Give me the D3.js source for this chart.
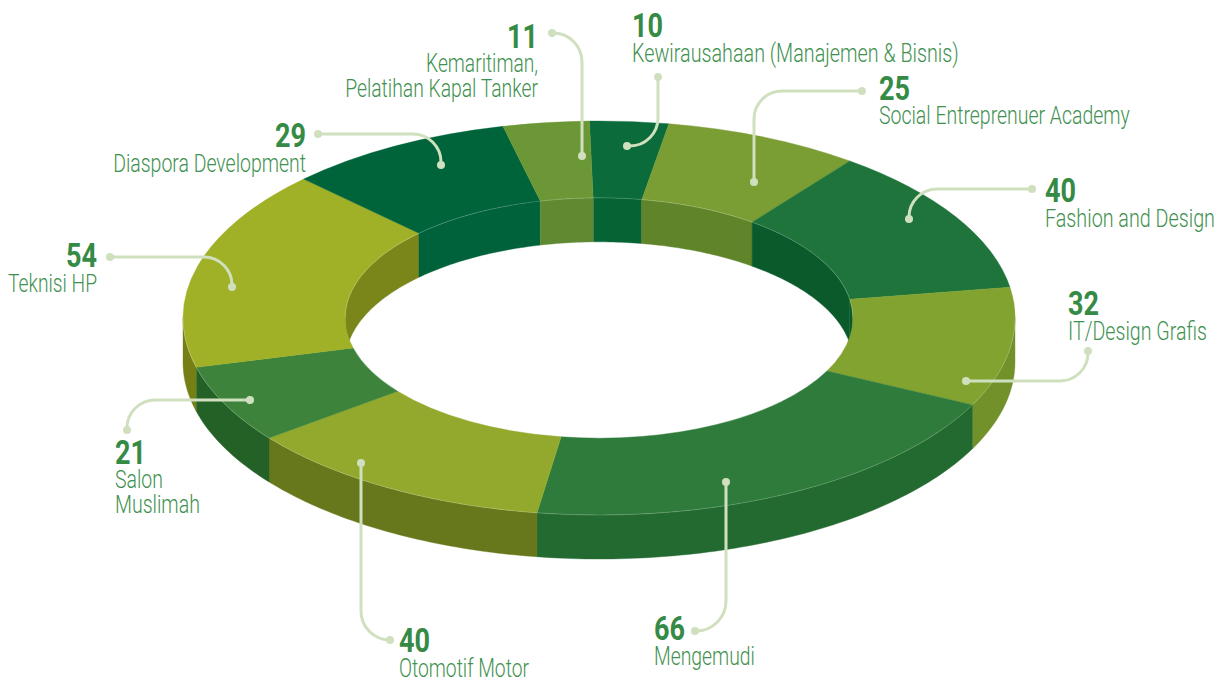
<!DOCTYPE html>
<html>
<head>
<meta charset="utf-8">
<title>Program</title>
<script src="https://cdn.jsdelivr.net/npm/d3@7"></script>
<style>
  body { margin: 0; background: #fff; }
  svg { display: block; }
  .angka { font-family: Roboto, "Liberation Sans", sans-serif; font-weight: 700; font-size: 32.5px; fill: #358a45; }
  .nama { font-family: Roboto, "Liberation Sans", sans-serif; font-weight: 300; font-size: 25.5px; fill: #3f9150; }
</style>
</head>
<body>
<div id="chart"></div>
<script>
// data, clockwise from the top of the ring
const names = ["Kewirausahaan (Manajemen & Bisnis)", "Social Entreprenuer Academy", "Fashion and Design",
  "IT/Design Grafis", "Mengemudi", "Otomotif Motor", "Salon\nMuslimah", "Teknisi HP", "Diaspora Development",
  "Kemaritiman,\nPelatihan Kapal Tanker"];
const values = [10, 25, 40, 32, 66, 40, 21, 54, 29, 11];

const topColors = ["#0b6b3a", "#7a9d34", "#1f743b", "#83a330", "#2e7b3b", "#93a92d", "#3d833b", "#a1b127", "#00643a", "#6b9737"];
const innerWallColors = ["#056334", "#5f842a", "#0a5a2c", "#0a5a2c", "#236a30", "#66781b", "#246127", "#7a861a", "#00623a", "#5f8a32"];
const outerWallColors = ["#056334", "#5f842a", "#0a5a2c", "#72912a", "#236a30", "#66781b", "#246127", "#757f16", "#00623a", "#5f8a32"];

// label placement: x, baseline of the number, baselines of the text lines, anchor, width of each line
const labelLayout = [
  { x: 632, numY: 37, lineY: [62], anchor: "start", w: [327] },
  { x: 879, numY: 100, lineY: [124], anchor: "start", w: [251] },
  { x: 1045, numY: 202, lineY: [227], anchor: "start", w: [170] },
  { x: 1068, numY: 315, lineY: [340], anchor: "start", w: [139] },
  { x: 654, numY: 640, lineY: [665], anchor: "start", w: [101] },
  { x: 399, numY: 652, lineY: [677], anchor: "start", w: [130] },
  { x: 115, numY: 464, lineY: [488, 513], anchor: "start", w: [48, 85] },
  { x: 97, numY: 267, lineY: [292], anchor: "end", w: [89] },
  { x: 306, numY: 147, lineY: [172], anchor: "end", w: [193] },
  { x: 538, numY: 48, lineY: [72, 97], anchor: "end", w: [112, 193] }
];
const numberWidth = 31;

// leader lines: start dot, corner, end dot, corner radius
const leaders = [
  [[658, 77], [658, 146], [627, 146], 28],
  [[862, 91], [754, 91], [754, 182], 28],
  [[1032, 189], [909, 189], [909, 219], 28],
  [[966, 381], [1088, 381], [1088, 351], 28],
  [[726, 482], [726, 631], [695, 631], 30],
  [[361, 463], [361, 640], [390, 640], 29],
  [[250, 400], [127, 400], [127, 430], 28],
  [[110, 257], [232, 257], [232, 287], 28],
  [[318, 134], [441, 134], [441, 165], 28],
  [[552, 33], [582, 33], [582, 156], 29]
];

const width = 1226, height = 682;
const cx = 599, cy = 318, rx = 416, ry = 197, depth = 44, holeRatio = 0.61;
const startDeg = -1.3;

const svg = d3.select("#chart").append("svg")
  .attr("width", width)
  .attr("height", height);

// the ring is a flat unit circle squashed into an ellipse
const xScale = d3.scaleLinear().domain([-1, 1]).range([cx - rx, cx + rx]);
const yScale = d3.scaleLinear().domain([-1, 1]).range([cy - ry, cy + ry]);

const pie = d3.pie().sort(null)
  .startAngle(startDeg * Math.PI / 180)
  .endAngle((startDeg + 360) * Math.PI / 180);
const slices = pie(values);

const arc = d3.arc().innerRadius(holeRatio).outerRadius(1);
const line = d3.line();

function ringPoints(a0, a1, r, dy) {
  const n = Math.max(2, Math.ceil((a1 - a0) * 60));
  return d3.range(n + 1).map(i => {
    const a = a0 + (a1 - a0) * i / n;
    return [xScale(r * Math.sin(a)), yScale(-r * Math.cos(a)) + dy];
  });
}

function wallPath(a0, a1, r) {
  const pts = ringPoints(a0, a1, r, 0).concat(ringPoints(a0, a1, r, depth).reverse());
  return line(pts) + "Z";
}

//cuts a slice to the part of the ring where the wall can be seen
function visibleParts(d, ranges) {
  const parts = [];
  ranges.forEach(rg => {
    const a0 = Math.max(d.startAngle, rg[0]);
    const a1 = Math.min(d.endAngle, rg[1]);
    if (a1 > a0) parts.push([a0, a1]);
  });
  return parts;
}

const PI = Math.PI;

// outer wall, lower half
const outerWalls = svg.append("g");
slices.forEach((d, i) => {
  visibleParts(d, [[PI / 2, PI * 1.5]]).forEach(p => {
    outerWalls.append("path")
      .attr("d", wallPath(p[0], p[1], 1))
      .attr("fill", outerWallColors[i])
      .attr("stroke", outerWallColors[i])
      .attr("stroke-width", 0.4);
  });
});

// inner wall, upper half of the hole
const innerWalls = svg.append("g");
slices.forEach((d, i) => {
  visibleParts(d, [[-PI / 2, PI / 2], [PI * 1.5, PI * 2.5]]).forEach(p => {
    innerWalls.append("path")
      .attr("d", wallPath(p[0], p[1], holeRatio))
      .attr("fill", innerWallColors[i])
      .attr("stroke", innerWallColors[i])
      .attr("stroke-width", 0.4);
  });
});

// top face
svg.append("g")
  .attr("transform", `translate(${cx},${cy}) scale(${rx},${ry})`)
  .selectAll("path")
  .data(slices)
  .join("path")
  .attr("d", arc)
  .attr("fill", (d, i) => topColors[i])
  .attr("stroke", (d, i) => topColors[i])
  .attr("stroke-width", 0.4)
  .attr("vector-effect", "non-scaling-stroke");

// thin light edge where the top meets the walls
svg.append("path")
  .attr("d", line(ringPoints(PI / 2, PI * 1.5, 1, 0)))
  .attr("fill", "none").attr("stroke", "#fff").attr("stroke-opacity", 0.3).attr("stroke-width", 0.6);
svg.append("path")
  .attr("d", line(ringPoints(-PI / 2, PI / 2, holeRatio, 0)))
  .attr("fill", "none").attr("stroke", "#fff").attr("stroke-opacity", 0.3).attr("stroke-width", 0.6);

// leader lines
const leaderColor = "#d0e0bf";
leaders.forEach(l => {
  const p = d3.path();
  p.moveTo(l[0][0], l[0][1]);
  p.arcTo(l[1][0], l[1][1], l[2][0], l[2][1], l[3]);
  p.lineTo(l[2][0], l[2][1]);
  svg.append("path")
    .attr("d", p.toString())
    .attr("fill", "none")
    .attr("stroke", leaderColor)
    .attr("stroke-width", 3);
  [l[0], l[2]].forEach(c => {
    svg.append("circle")
      .attr("cx", c[0])
      .attr("cy", c[1])
      .attr("r", 4)
      .attr("fill", leaderColor);
  });
});

// no condensed font is installed, so each text is squeezed to the reference width
function addText(cls, str, x, y, anchor, w) {
  const t = svg.append("text")
    .attr("class", cls)
    .attr("text-anchor", anchor)
    .text(str);
  const natural = t.node().getComputedTextLength();
  t.attr("transform", `translate(${x},${y}) scale(${w / natural},1)`);
}

// labels
values.forEach((v, i) => {
  const pos = labelLayout[i];
  addText("angka", v, pos.x, pos.numY, pos.anchor, numberWidth);
  names[i].split("\n").forEach((t, j) => {
    addText("nama", t, pos.x, pos.lineY[j], pos.anchor, pos.w[j]);
  });
});
</script>
</body>
</html>
